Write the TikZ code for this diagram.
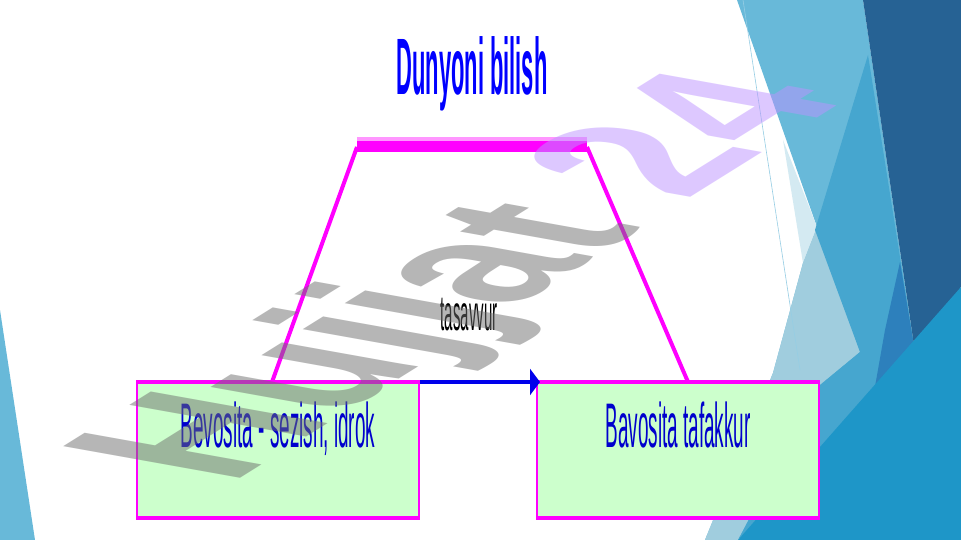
\documentclass[tikz,border=0pt]{standalone}
\usepackage{fontspec}
\setmainfont{Liberation Sans}
\usetikzlibrary{arrows.meta}

\definecolor{slidelight}{RGB}{104,185,217}
\definecolor{slidesliver}{RGB}{212,234,242}
\definecolor{slidepale}{RGB}{160,205,222}
\definecolor{slidemid}{RGB}{70,166,207}
\definecolor{slidedark}{RGB}{38,98,148}
\definecolor{slidestripe}{RGB}{45,128,188}
\definecolor{slidebright}{RGB}{30,150,200}
\definecolor{slidehair}{RGB}{150,205,228}
\definecolor{boxgreen}{RGB}{204,255,204}
\definecolor{linkmag}{RGB}{255,0,255}
\definecolor{linkpink}{RGB}{255,150,255}
\definecolor{textblue}{RGB}{0,0,205}
\definecolor{titleblue}{RGB}{0,0,255}
\definecolor{arrowblue}{RGB}{0,0,235}
\definecolor{wmgray}{RGB}{110,110,110}
\definecolor{wmpurple}{RGB}{189,147,255}

\begin{document}
\begin{tikzpicture}[x=1pt, y=-1pt,
  squeezed/.style={inner sep=0pt, anchor=base, xscale=#1},
  squeezed/.default=0.3,
  boxnode/.style={draw=linkmag, line width=2pt, fill=boxgreen, anchor=north west,
    minimum width=282pt, minimum height=134pt, inner sep=0pt},
  boxedge/.style={linkmag, line width=4pt},
  leg/.style={linkmag, line width=4pt},
  link/.style={arrowblue, line width=3.5pt, -{Triangle[length=10pt, width=26pt]}},
]
\useasboundingbox (0, 0) rectangle (961, 540);
\fill[white] (0, 0) rectangle (961, 540);

% Background facets
\fill[slidelight] (737, 0) -- (863, 0) -- (915, 352) -- (738, 540) -- (705, 540) -- (773, 373) -- (803, 263) -- (817, 227) -- cycle;
\fill[slidesliver] (783, 140) -- (817, 227) -- (803, 263) -- cycle;
\fill[slidepale] (817, 227) -- (860, 352) -- (820, 385) -- (738, 540) -- (705, 540) -- (773, 373) -- (803, 263) -- cycle;
\fill[slidemid] (868, 55) -- (915, 352) -- (738, 540) -- (820, 385) -- (860, 352) -- (815, 230) -- cycle;
\fill[slidestripe] (900, 262) -- (915, 352) -- (870, 415) -- (885, 330) -- cycle;
\fill[slidedark] (863, 0) -- (961, 0) -- (961, 287) -- (915, 352) -- cycle;
\fill[slidebright] (961, 287) -- (961, 540) -- (738, 540) -- cycle;
\fill[slidelight] (0, 310) -- (35, 540) -- (0, 540) -- cycle;
\draw[slidehair, line width=0.6pt] (743, 0) -- (800, 370);

% Title
\node[squeezed=0.274, titleblue, font=\bfseries\fontsize{80}{80}\selectfont] (title) at (472, 95) {Dunyoni bilish};

% Boxes
\node[boxnode] (lbox) at (136, 382) {};
\node[boxnode] (rbox) at (536, 382) {};
\draw[boxedge] (lbox.north west) -- (lbox.north east);
\draw[boxedge] (lbox.south west) -- (lbox.south east);
\draw[boxedge] (rbox.north west) -- (rbox.north east);
\draw[boxedge] (rbox.south west) -- (rbox.south east);
\node[squeezed, textblue, font=\fontsize{63}{63}\selectfont] (ltext) at ([yshift=-65pt]lbox.north) {Bevosita - sezish, idrok};
\node[squeezed, textblue, font=\fontsize{63}{63}\selectfont] (rtext) at ([yshift=-65pt]rbox.north) {Bavosita tafakkur};

% Trapezoid
\coordinate (ltop) at (357, 147);
\coordinate (rtop) at (587, 147);
\coordinate (lfoot) at (272, 382);
\coordinate (rfoot) at (688, 382);
\draw[linkpink, line width=5pt] ([yshift=7pt]ltop) -- ([yshift=7pt]rtop);
\draw[linkmag, line width=11pt] (ltop) -- (rtop);
\draw[leg] (lfoot) -- (ltop);
\draw[leg] (rfoot) -- (rtop);
\node[squeezed, black, font=\fontsize{50}{50}\selectfont] (mid) at (469, 330) {tasavvur};
\draw[link] (lbox.north east) -- ([xshift=4pt]rbox.north west);

% Watermark
\node[inner sep=0pt, anchor=base west, text opacity=0.5, cm={1.49,0.93,-2.57,0.46,(0,0)},
  font=\bfseries\fontsize{100}{100}\selectfont] (mark) at (230, 485)
  {\textcolor{wmgray}{Hujjat} \textcolor{wmpurple}{24}};
\end{tikzpicture}
\end{document}
